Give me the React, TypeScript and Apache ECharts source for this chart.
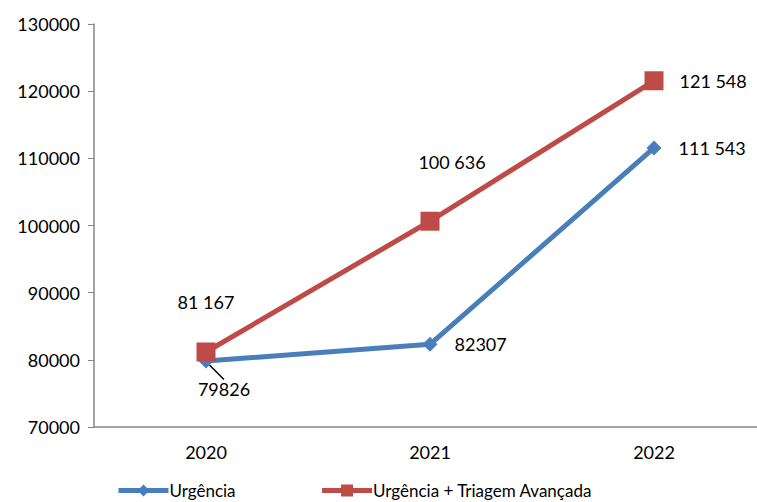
import React, { useEffect, useRef } from "react";
import * as echarts from "echarts";

const categories = ["2020", "2021", "2022"];
const urgencia = [79826, 82307, 111543];
const urgenciaTriagem = [81167, 100636, 121548];
const urgenciaLabels = ["79826", "82307", "111 543"];
const triagemLabels = ["81 167", "100 636", "121 548"];

const FONT = "Lato";

export default function App() {
  const ref = useRef<HTMLDivElement>(null);
  useEffect(() => {
    if (!ref.current) return;
    const chart = echarts.init(ref.current, undefined, { renderer: "svg" });
    chart.setOption({
      animation: false,
      textStyle: { fontFamily: FONT },
      grid: { left: 94, width: 672, top: 24, height: 403, outerBoundsMode: "none" },
      legend: {
        bottom: -2,
        left: 111,
        itemGap: 84,
        itemWidth: 50,
        itemHeight: 15,
        lineStyle: { width: 5 },
        textStyle: { fontSize: 17, color: "#000", fontFamily: FONT, padding: [0, 0, 0, -4] },
        data: ["Urgência", "Urgência + Triagem Avançada"],
      },
      xAxis: {
        type: "category",
        data: categories,
        axisLine: { lineStyle: { color: "#868686", width: 1.5 } },
        axisTick: { length: 6, lineStyle: { color: "#868686" } },
        axisLabel: { fontSize: 18, color: "#000", margin: 16 },
      },
      yAxis: {
        type: "value",
        min: 70000,
        max: 130000,
        interval: 10000,
        splitLine: { show: false },
        axisLine: { show: true, lineStyle: { color: "#868686", width: 1.5 } },
        axisTick: { show: true, length: 6, lineStyle: { color: "#868686" } },
        axisLabel: { fontSize: 18, color: "#000", margin: 14, formatter: (v: number) => String(v) },
      },
      series: [
        {
          name: "Urgência",
          type: "line",
          data: urgencia.map((v, i) => ({
            value: v,
            label: i === 0 ? { position: "bottom", distance: 8 } : {},
            labelLine: { show: i === 0 },
          })),
          symbol: "diamond",
          symbolSize: 15,
          lineStyle: { width: 5, color: "#4a7ebb" },
          itemStyle: { color: "#4a7ebb" },
          label: {
            show: true,
            position: "right",
            distance: 17,
            fontSize: 18,
            color: "#000",
            formatter: (p: any) => urgenciaLabels[p.dataIndex],
          },
          labelLine: { show: false, lineStyle: { color: "#000", width: 1.5 }, length2: 0 },
          labelLayout: (p: any) => (p.dataIndex === 0 ? { dx: 18, dy: 3 } : {}),
          z: 2,
        },
        {
          name: "Urgência + Triagem Avançada",
          type: "line",
          data: urgenciaTriagem.map((v, i) => ({
            value: v,
            label:
              i === 0
                ? { position: "top", offset: [0, -26] }
                : i === 1
                ? { position: "top", offset: [22, -36] }
                : { position: "right", distance: 16 },
          })),
          symbol: "rect",
          symbolSize: 19,
          lineStyle: { width: 5, color: "#be4b48" },
          itemStyle: { color: "#be4b48" },
          label: {
            show: true,
            fontSize: 18,
            color: "#000",
            formatter: (p: any) => triagemLabels[p.dataIndex],
          },
          z: 3,
        },
      ],
    });
    return () => chart.dispose();
  }, []);
  return <div ref={ref} style={{ width: 757, height: 502, position: "absolute", left: 0, top: 0 }} />;
}
